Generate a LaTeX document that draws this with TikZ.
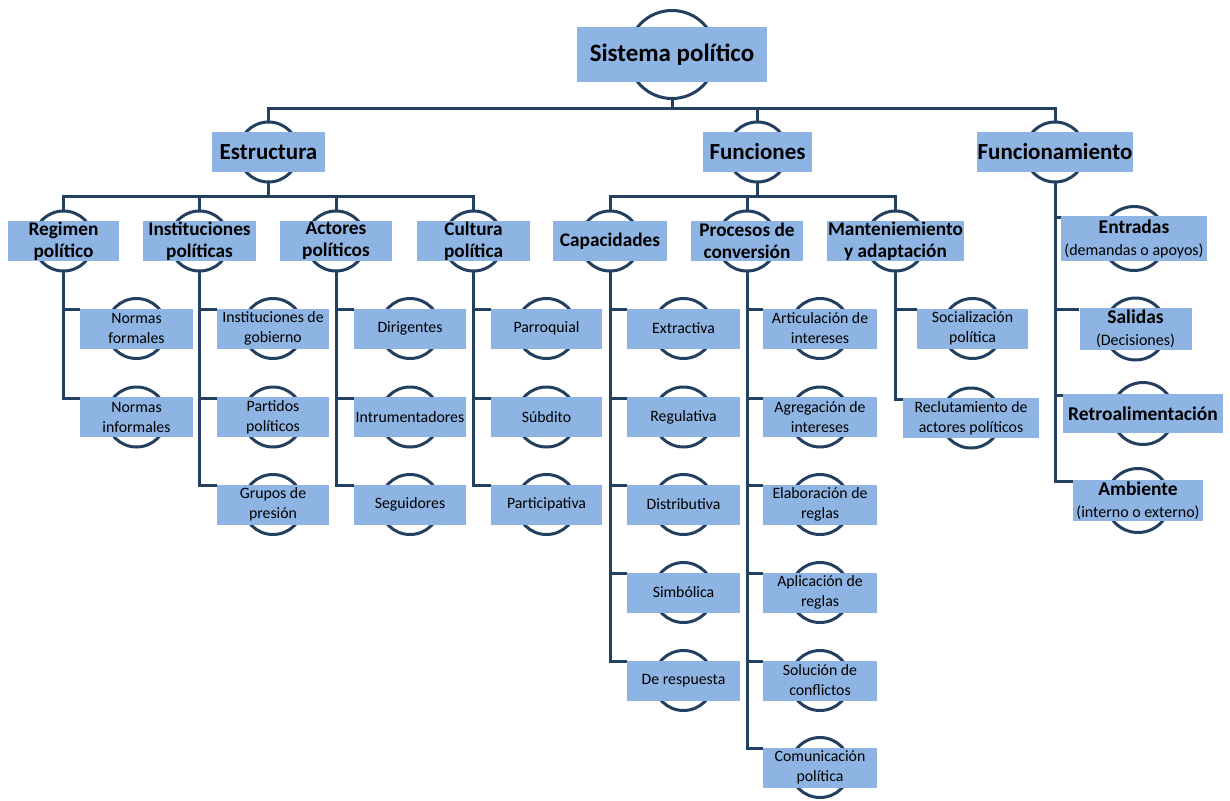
\documentclass[tikz,border=0pt]{standalone}
\usepackage{fontspec}
\setmainfont{Carlito}
\pgfdeclarelayer{background}
\pgfsetlayers{background,main}
\definecolor{boxc}{RGB}{142,180,227}
\definecolor{linec}{RGB}{36,64,97}
\tikzset{
  box/.style={fill=boxc, draw=none, inner sep=0pt, align=center, text=black},
  ring/.style={draw=linec, line width=3pt},
  conn/.style={draw=linec, line width=3pt, line join=miter},
  l0/.style={font=\fontsize{25}{28}\selectfont\bfseries},
  l1/.style={font=\fontsize{23}{26}\selectfont\bfseries},
  l2/.style={font=\fontsize{19.3}{22}\selectfont\bfseries},
  l3/.style={font=\fontsize{15.8}{20}\selectfont},
  l4/.style={font=\fontsize{19.5}{22}\selectfont\bfseries},
}
\newcommand\subt[1]{{\fontsize{16}{18}\selectfont\mdseries #1}}
% [style]{name}{x,y}{w}{h}{r}{text}
\newcommand\bx[7][]{%
  \node[box,#1,minimum width=#4pt,minimum height=#5pt] (#2) at (#3) {#7};
  \begin{pgfonlayer}{background}\draw[ring] (#2.center) circle[radius=#6pt];\end{pgfonlayer}
  \coordinate (#2-t) at ([yshift=#6pt]#2.center);
  \coordinate (#2-b) at ([yshift=-#6pt]#2.center);
}
\begin{document}
\begin{tikzpicture}[x=1pt,y=-1pt]
\useasboundingbox (0,0) rectangle (1230,800);
% level 0 / 1
\bx[l0]{sp}{672,54.5}{190}{55}{44}{Sistema político}
\bx[l1]{est}{268.5,152}{113}{40}{30}{Estructura}
\bx[l1]{fun}{757.5,152}{109}{40}{30}{Funciones}
\bx[l1]{fnm}{1055,152}{156}{40}{30}{Funcionamiento}
% level 2
\bx[l2]{reg}{63.5,241}{111}{40}{30}{Regimen\\político}
\bx[l2]{ins}{199.5,241}{113}{40}{30}{Instituciones\\políticas}
\bx[l2]{act}{336,241}{112}{40}{30}{Actores\\políticos}
\bx[l2]{cul}{473.5,241}{113}{40}{30}{Cultura\\política}
\bx[l2]{cap}{610,241}{114}{40}{30}{Capacidades}
\bx[l2]{pro}{747,241}{112}{40}{30}{Procesos de\\conversión}
\bx[l2]{man}{895.5,241}{137}{40}{30}{Manteniemiento\\y adaptación}
% level 3 : Regimen
\bx[l3]{nf}{136.5,328.5}{113}{40}{30}{Normas\\formales}
\bx[l3]{ni}{136.5,417}{113}{40}{30}{Normas\\informales}
% Instituciones
\bx[l3]{ig}{273,328.5}{112}{40}{30}{Instituciones de\\gobierno}
\bx[l3]{pp}{273,417}{112}{40}{30}{Partidos\\políticos}
\bx[l3]{gp}{273,504.5}{112}{40}{30}{Grupos de\\presión}
% Actores
\bx[l3]{dir}{410,328.5}{112}{40}{30}{Dirigentes}
\bx[l3]{intr}{410,417}{112}{40}{30}{Intrumentadores}
\bx[l3]{seg}{410,504.5}{112}{40}{30}{Seguidores}
% Cultura
\bx[l3]{par}{546.5,328.5}{111}{40}{30}{Parroquial}
\bx[l3]{sub}{546.5,417}{111}{40}{30}{Súbdito}
\bx[l3]{pat}{546.5,504.5}{111}{40}{30}{Participativa}
% Capacidades
\bx[l3]{ext}{683.5,328.5}{113}{40}{30}{Extractiva}
\bx[l3]{rgl}{683.5,417}{113}{40}{30}{Regulativa}
\bx[l3]{dis}{683.5,504.5}{113}{40}{30}{Distributiva}
\bx[l3]{sim}{683.5,592.5}{113}{40}{30}{Simbólica}
\bx[l3]{res}{683.5,680.5}{113}{40}{30}{De respuesta}
% Procesos
\bx[l3]{art}{820,328.5}{114}{40}{30}{Articulación de\\intereses}
\bx[l3]{agr}{820,417}{114}{40}{30}{Agregación de\\intereses}
\bx[l3]{ela}{820,504.5}{114}{40}{30}{Elaboración de\\reglas}
\bx[l3]{apl}{820,592.5}{114}{40}{30}{Aplicación de\\reglas}
\bx[l3]{sol}{820,680.5}{114}{40}{30}{Solución de\\conflictos}
\bx[l3]{com}{820,767.5}{114}{40}{30}{Comunicación\\política}
% Mantenimiento
\bx[l3]{soc}{972.5,328.5}{111}{40}{30}{Socialización\\política}
\bx[l3]{rec}{971,418}{136}{40}{30}{Reclutamiento de\\actores políticos}
% Funcionamiento
\bx[l4]{ent}{1134,238.5}{146}{45}{32}{Entradas\\\subt{(demandas o apoyos)}}
\bx[l4]{sal}{1135.5,329}{112}{42}{31}{Salidas\\\subt{(Decisiones)}}
\bx[l4]{ret}{1143,413.5}{160}{39}{31}{Retroalimentación}
\bx[l4]{amb}{1138,500.5}{130}{41}{32}{Ambiente\\\subt{(interno o externo)}}
% connectors
\coordinate (bus0) at (672,108);
\coordinate (bus1) at (0,196);
\draw[conn] (sp-b) -- (bus0);
\draw[conn] (est-t) -- (est-t |- bus0) -- (fnm-t |- bus0) -- (fnm-t);
\draw[conn] (fun-t) -- (fun-t |- bus0);
\draw[conn] (est-b) -- (est-b |- bus1);
\draw[conn] (reg-t) -- (reg-t |- bus1) -- (cul-t |- bus1) -- (cul-t);
\draw[conn] (ins-t) -- (ins-t |- bus1);
\draw[conn] (act-t) -- (act-t |- bus1);
\draw[conn] (fun-b) -- (fun-b |- bus1);
\draw[conn] (cap-t) -- (cap-t |- bus1) -- (man-t |- bus1) -- (man-t);
\draw[conn] (pro-t) -- (pro-t |- bus1);
\foreach \p/\c in {reg/nf,reg/ni,ins/ig,ins/pp,ins/gp,act/dir,act/intr,act/seg,
  cul/par,cul/sub,cul/pat,cap/ext,cap/rgl,cap/dis,cap/sim,cap/res,
  pro/art,pro/agr,pro/ela,pro/apl,pro/sol,pro/com,man/soc,man/rec,
  fnm/ent,fnm/sal,fnm/ret,fnm/amb}
  \draw[conn] (\p-b) |- ([yshift=-1.5pt]\c.north west);
\end{tikzpicture}
\end{document}
